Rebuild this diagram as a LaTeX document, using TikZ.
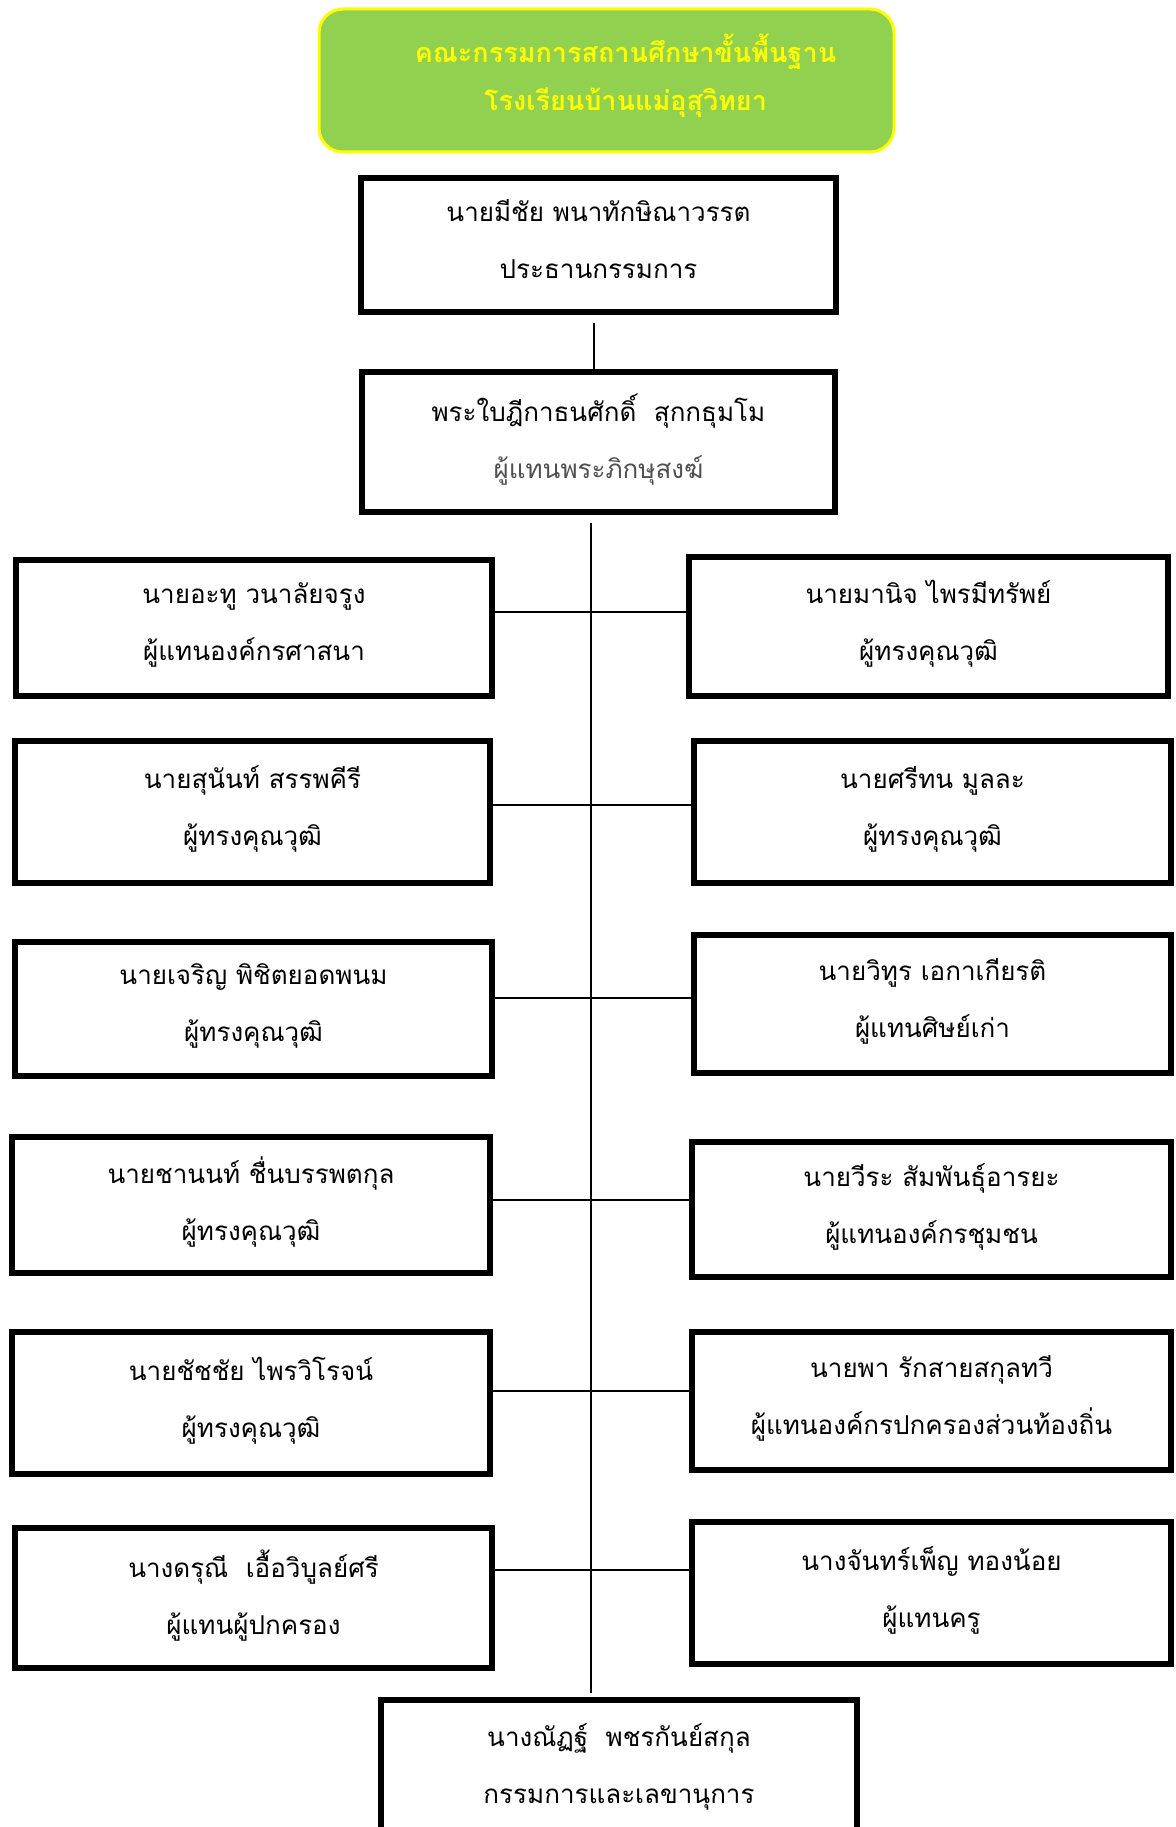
\documentclass[tikz,border=0pt]{standalone}
\usepackage{fontspec}
\newfontfamily\thaifont[Script=Thai]{Loma}
\definecolor{titlegreen}{HTML}{92D050}
\definecolor{titleyellow}{HTML}{FFFF00}
\definecolor{subgray}{HTML}{505050}
\begin{document}
\begin{tikzpicture}[x=1pt,y=-1pt,
  box/.style={draw=black,line width=5.5pt,fill=white,rectangle,inner sep=0pt,align=center,
    font=\thaifont\fontsize{26}{57}\selectfont,
    execute at end node={\rule[-12pt]{0pt}{1pt}}},
  titlebox/.style={draw=titleyellow,line width=3pt,fill=titlegreen,rectangle,rounded corners=24pt,
    inner sep=0pt,align=center,text=titleyellow,font=\thaifont\bfseries\fontsize{27}{48}\selectfont,
    execute at end node={\rule[-16pt]{0pt}{1pt}}},
  link/.style={draw=black,line width=2pt}]
\useasboundingbox (0,0) rectangle (1175,1827);
\node[titlebox,minimum width=575,minimum height=143] (title) at (606.5,80.5)
  {\hspace*{38pt}คณะกรรมการสถานศึกษาขั้นพื้นฐาน\\\hspace*{38pt}โรงเรียนบ้านแม่อุสุวิทยา};
\node[box,minimum width=475,minimum height=134] (chair) at (598.5,245)
  {นายมีชัย พนาทักษิณาวรรต\\ประธานกรรมการ};
\node[box,minimum width=473,minimum height=140] (monk) at (598.5,442)
  {พระใบฎีกาธนศักดิ์ \ สุกกธุมโม\\\textcolor{subgray}{ผู้แทนพระภิกษุสงฆ์}};
\node[box,minimum width=476,minimum height=136] (l1) at (254,628)
  {นายอะทู วนาลัยจรูง\\ผู้แทนองค์กรศาสนา};
\node[box,minimum width=475,minimum height=142] (l2) at (252.5,812)
  {นายสุนันท์ สรรพคีรี\\ผู้ทรงคุณวุฒิ};
\node[box,minimum width=477,minimum height=134] (l3) at (253.5,1009)
  {นายเจริญ พิชิตยอดพนม\\ผู้ทรงคุณวุฒิ};
\node[box,minimum width=478,minimum height=136] (l4) at (251,1205)
  {นายชานนท์ ชื่นบรรพตกุล\\ผู้ทรงคุณวุฒิ};
\node[box,minimum width=478,minimum height=142] (l5) at (251,1403)
  {นายชัชชัย ไพรวิโรจน์\\ผู้ทรงคุณวุฒิ};
\node[box,minimum width=477,minimum height=140] (l6) at (253.5,1598)
  {นางดรุณี \ เอื้อวิบูลย์ศรี\\ผู้แทนผู้ปกครอง};
\node[box,minimum width=479,minimum height=139] (r1) at (928.5,626.5)
  {นายมานิจ ไพรมีทรัพย์\\ผู้ทรงคุณวุฒิ};
\node[box,minimum width=477,minimum height=142] (r2) at (932.5,812)
  {นายศรีทน มูลละ\\ผู้ทรงคุณวุฒิ};
\node[box,minimum width=477,minimum height=138] (r3) at (932.5,1004)
  {นายวิทูร เอกาเกียรติ\\ผู้แทนศิษย์เก่า};
\node[box,minimum width=479,minimum height=135] (r4) at (931.5,1209.5)
  {นายวีระ สัมพันธุ์อารยะ\\ผู้แทนองค์กรชุมชน};
\node[box,minimum width=479,minimum height=138] (r5) at (931.5,1401)
  {นายพา รักสายสกุลทวี\\ผู้แทนองค์กรปกครองส่วนท้องถิ่น};
\node[box,minimum width=479,minimum height=142] (r6) at (931.5,1593)
  {นางจันทร์เพ็ญ ทองน้อย\\ผู้แทนครู};
\node[box,minimum width=476,minimum height=140] (sec) at (619,1770)
  {นางณัฏฐ์ \ พชรกันย์สกุล\\กรรมการและเลขานุการ};
% connectors
\coordinate (ctop) at (594,323);
\coordinate (ttop) at (591,523);
\coordinate (tbot) at (591,1693);
\draw[link] (ctop) -- (ctop |- monk.north);
\draw[link] (ttop) -- (tbot);
\coordinate (row1) at (0,612);
\coordinate (row2) at (0,805);
\coordinate (row3) at (0,998);
\coordinate (row4) at (0,1200);
\coordinate (row5) at (0,1391);
\coordinate (row6) at (0,1570);
\draw[link] ([xshift=-5pt]l1.east |- row1) -- (r1.west |- row1);
\draw[link] (l2.east |- row2) -- (r2.west |- row2);
\draw[link] (l3.east |- row3) -- (r3.west |- row3);
\draw[link] (l4.east |- row4) -- (r4.west |- row4);
\draw[link] (l5.east |- row5) -- (r5.west |- row5);
\draw[link] (l6.east |- row6) -- (r6.west |- row6);
\end{tikzpicture}
\end{document}
